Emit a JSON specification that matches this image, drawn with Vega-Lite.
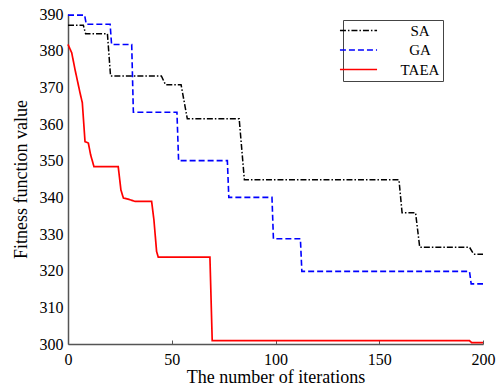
{
  "$schema": "https://vega.github.io/schema/vega-lite/v6.json",
  "width": 415,
  "height": 330,
  "autosize": {"type": "none"},
  "padding": {"left": 68, "top": 14, "right": 14, "bottom": 44},
  "background": "white",
  "config": {
    "view": {"stroke": null},
    "font": "Liberation Serif",
    "axis": {
      "grid": false,
      "domainColor": "#555555",
      "domainWidth": 1.5,
      "labelColor": "#000000",
      "titleColor": "#000000",
      "labelFont": "Liberation Serif",
      "titleFont": "Liberation Serif",
      "titleFontWeight": "normal",
      "labelFlush": false,
      "labelOverlap": false
    }
  },
  "data": {
    "values": [
      {"t": 0, "value": 386.9, "algo": "SA"},
      {"t": 7.4, "value": 386.9, "algo": "SA"},
      {"t": 8.5, "value": 384.6, "algo": "SA"},
      {"t": 19, "value": 384.6, "algo": "SA"},
      {"t": 20.5, "value": 373.1, "algo": "SA"},
      {"t": 45, "value": 373.1, "algo": "SA"},
      {"t": 47, "value": 370.7, "algo": "SA"},
      {"t": 54.5, "value": 370.7, "algo": "SA"},
      {"t": 57.5, "value": 361.4, "algo": "SA"},
      {"t": 82.5, "value": 361.4, "algo": "SA"},
      {"t": 85, "value": 344.8, "algo": "SA"},
      {"t": 159.5, "value": 344.8, "algo": "SA"},
      {"t": 161, "value": 335.8, "algo": "SA"},
      {"t": 167.5, "value": 335.8, "algo": "SA"},
      {"t": 169.5, "value": 326.4, "algo": "SA"},
      {"t": 193.5, "value": 326.4, "algo": "SA"},
      {"t": 195.5, "value": 324.5, "algo": "SA"},
      {"t": 200, "value": 324.5, "algo": "SA"},
      {"t": 0, "value": 389.7, "algo": "GA"},
      {"t": 8, "value": 389.7, "algo": "GA"},
      {"t": 8.8, "value": 387.2, "algo": "GA"},
      {"t": 20.3, "value": 387.2, "algo": "GA"},
      {"t": 21, "value": 381.7, "algo": "GA"},
      {"t": 30.7, "value": 381.7, "algo": "GA"},
      {"t": 31.5, "value": 363.2, "algo": "GA"},
      {"t": 52.5, "value": 363.2, "algo": "GA"},
      {"t": 53.3, "value": 350, "algo": "GA"},
      {"t": 76.8, "value": 350, "algo": "GA"},
      {"t": 77.5, "value": 340, "algo": "GA"},
      {"t": 98.3, "value": 340, "algo": "GA"},
      {"t": 99, "value": 328.7, "algo": "GA"},
      {"t": 112, "value": 328.7, "algo": "GA"},
      {"t": 112.7, "value": 319.8, "algo": "GA"},
      {"t": 193.5, "value": 319.8, "algo": "GA"},
      {"t": 194.3, "value": 316.4, "algo": "GA"},
      {"t": 200, "value": 316.4, "algo": "GA"},
      {"t": 0, "value": 381.7, "algo": "TAEA"},
      {"t": 1.8, "value": 379.4, "algo": "TAEA"},
      {"t": 3.4, "value": 374.8, "algo": "TAEA"},
      {"t": 5.8, "value": 368.5, "algo": "TAEA"},
      {"t": 6.9, "value": 365.8, "algo": "TAEA"},
      {"t": 8.2, "value": 355.2, "algo": "TAEA"},
      {"t": 9.8, "value": 354.8, "algo": "TAEA"},
      {"t": 10.9, "value": 351.6, "algo": "TAEA"},
      {"t": 12.5, "value": 348.4, "algo": "TAEA"},
      {"t": 24.2, "value": 348.4, "algo": "TAEA"},
      {"t": 25.5, "value": 342, "algo": "TAEA"},
      {"t": 26.7, "value": 339.8, "algo": "TAEA"},
      {"t": 29, "value": 339.5, "algo": "TAEA"},
      {"t": 32.3, "value": 338.9, "algo": "TAEA"},
      {"t": 40.3, "value": 338.9, "algo": "TAEA"},
      {"t": 41.4, "value": 333.9, "algo": "TAEA"},
      {"t": 42.7, "value": 325.2, "algo": "TAEA"},
      {"t": 43.5, "value": 323.7, "algo": "TAEA"},
      {"t": 68.4, "value": 323.7, "algo": "TAEA"},
      {"t": 69.5, "value": 300.9, "algo": "TAEA"},
      {"t": 193.5, "value": 300.9, "algo": "TAEA"},
      {"t": 194.5, "value": 300.4, "algo": "TAEA"},
      {"t": 200, "value": 300.4, "algo": "TAEA"}
    ]
  },
  "mark": {"type": "line", "interpolate": "linear", "clip": false},
  "encoding": {
    "x": {
      "field": "t",
      "type": "quantitative",
      "scale": {"domain": [0, 200], "nice": false, "zero": false},
      "axis": {
        "values": [0, 50, 100, 150, 200],
        "title": "The number of iterations",
        "labelFontSize": 16,
        "titleFontSize": 18,
        "tickSize": -4,
        "tickColor": "#555555",
        "labelPadding": 11,
        "titlePadding": 1
      }
    },
    "y": {
      "field": "value",
      "type": "quantitative",
      "scale": {"domain": [300, 390], "nice": false, "zero": false},
      "axis": {
        "values": [300, 310, 320, 330, 340, 350, 360, 370, 380, 390],
        "title": "Fitness function value",
        "labelFontSize": 16,
        "titleFontSize": 18,
        "ticks": false,
        "labelPadding": 5,
        "titlePadding": 9
      }
    },
    "color": {
      "field": "algo",
      "type": "nominal",
      "scale": {"domain": ["SA", "GA", "TAEA"], "range": ["#000000", "#0000ff", "#ff0000"]},
      "legend": {
        "title": "\u00a0\u00a0\u00a0\u00a0\u00a0\u00a0\u00a0\u00a0",
        "titleOrient": "right",
        "titlePadding": 0,
        "titleFontSize": 15,
        "titleFont": "Liberation Serif",
        "orient": "none",
        "legendX": 275,
        "legendY": 6,
        "strokeColor": "#444444",
        "fillColor": "#ffffff",
        "padding": 3,
        "symbolOffset": 5,
        "symbolType": "M-4,0H4",
        "symbolSize": 86,
        "symbolStrokeWidth": 2,
        "rowPadding": 3.5,
        "labelFont": "Liberation Serif",
        "labelFontSize": 15,
        "labelColor": "#000000",
        "labelAlign": "center",
        "labelOffset": 54
      }
    },
    "strokeDash": {
      "field": "algo",
      "type": "nominal",
      "scale": {"domain": ["SA", "GA", "TAEA"], "range": [[6, 2, 1.5, 2], [6, 3], [1, 0]]}
    },
    "strokeWidth": {
      "field": "algo",
      "type": "nominal",
      "scale": {"domain": ["SA", "GA", "TAEA"], "range": [1.5, 1.7, 2]},
      "legend": null
    }
  }
}
